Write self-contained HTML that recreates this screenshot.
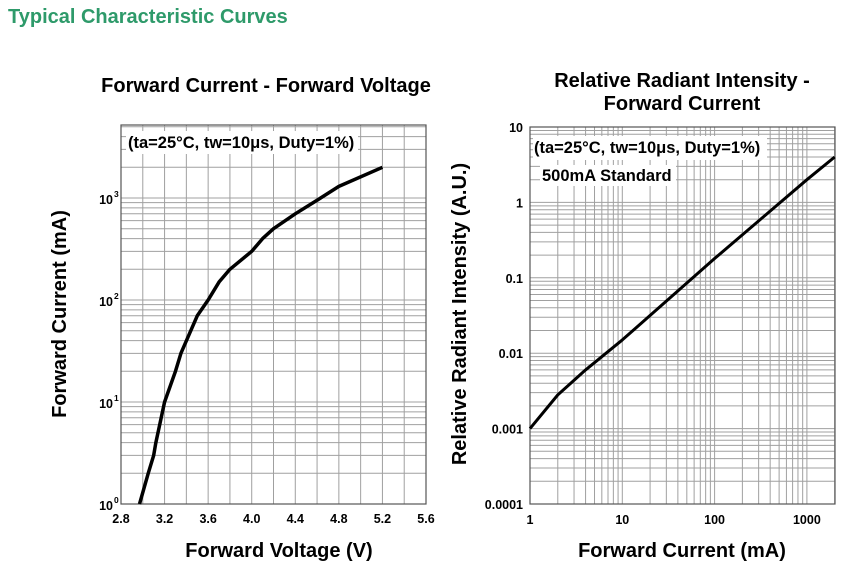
<!DOCTYPE html>
<html><head><meta charset="utf-8"><style>
body{margin:0;background:#fff;width:848px;height:575px;overflow:hidden;font-family:"Liberation Sans",Arial,sans-serif}
svg text{font-family:"Liberation Sans",Arial,sans-serif;font-weight:bold}
</style></head><body>
<svg id="s" width="848" height="575" xmlns="http://www.w3.org/2000/svg">
<text x="8" y="23" font-size="20" fill="#2e9a6a">Typical Characteristic Curves</text>
<text x="266" y="92" font-size="20" text-anchor="middle">Forward Current - Forward Voltage</text>
<text x="682" y="87" font-size="20" text-anchor="middle">Relative Radiant Intensity -</text>
<text x="682" y="110" font-size="20" text-anchor="middle">Forward Current</text>
<text x="279" y="557" font-size="20" text-anchor="middle">Forward Voltage (V)</text>
<text x="682" y="557" font-size="20" text-anchor="middle">Forward Current (mA)</text>
<text transform="translate(66,314) rotate(-90)" font-size="20" text-anchor="middle">Forward Current (mA)</text>
<text transform="translate(466,314) rotate(-90)" font-size="20" text-anchor="middle">Relative Radiant Intensity (A.U.)</text>
<g id="L"></g><g id="R"></g>
</svg>
<script>
// Left chart data
const fvVoltage=[2.97,3.05,3.1,3.12,3.2,3.3,3.35,3.5,3.6,3.7,3.8,4.0,4.1,4.2,4.4,4.6,4.8,5.2];
const fvCurrent=[1,2,3,4,10,20,30,70,100,150,200,300,400,500,700,950,1300,2000];
const leftXTicks=["2.8","3.2","3.6","4.0","4.4","4.8","5.2","5.6"];
const leftYTicks=["0","1","2","3"];
// Right chart data
const riCurrent=[1,2,4,10,100,1000,2000];
const riIntensity=[0.001,0.0028,0.006,0.015,0.18,2,4];
const rightXTicks=["1","10","100","1000"];
const rightYTicks=["0.0001","0.001","0.01","0.1","1","10"];

const NS="http://www.w3.org/2000/svg";
function mk(p,t,a){const e=document.createElementNS(NS,t);for(const k in a)e.setAttribute(k,a[k]);p.appendChild(e);return e;}
const grid="#a0a0a0";
// LEFT
const L=document.getElementById('L');
const lx0=121,lx1=426,ly0=504,ly1=125,lmin=2.8,lmax=5.6,ydec=102;
const lX=v=>lx0+(v-lmin)/(lmax-lmin)*(lx1-lx0);
const lY=v=>ly0-Math.log10(v)*ydec;
for(let v=2.8;v<=5.61;v+=0.2){const x=lX(v);const g=mk(L,'line',{x1:x,x2:x,y1:ly1,y2:ly0,stroke:grid,'stroke-width':1});}
for(let d=0;d<4;d++)for(let m=1;m<10;m++){const v=m*Math.pow(10,d);const y=lY(v);if(y<ly1)continue;const g=mk(L,'line',{x1:lx0,x2:lx1,y1:y,y2:y,stroke:grid,'stroke-width':1});}
let r=mk(L,'rect',{x:lx0,y:ly1,width:lx1-lx0,height:ly0-ly1,fill:'none',stroke:'#555','stroke-width':1.2});

leftXTicks.forEach(t=>{const e=mk(L,'text',{x:lX(+t),y:523,'font-size':12.5,'text-anchor':'middle'});e.textContent=t;});
leftYTicks.forEach(t=>{const y=lY(Math.pow(10,+t));const e=mk(L,'text',{x:113,y:y+6,'font-size':12.5,'text-anchor':'end'});e.textContent='10';const s=mk(L,'text',{x:114,y:y-1,'font-size':8.5});s.textContent=t;});
let bg=mk(L,'rect',{x:126,y:131,width:232,height:23,fill:'#fff'});
let n=mk(L,'text',{x:128,y:148,'font-size':16.5});n.textContent='(ta=25°C, tw=10μs, Duty=1%)';
let p=mk(L,'polyline',{points:fvVoltage.map((v,i)=>lX(v)+','+lY(fvCurrent[i])).join(' '),fill:'none',stroke:'#000','stroke-width':3.5,'stroke-linejoin':'round'});

// RIGHT
const R=document.getElementById('R');
const rx0=530,rx1=835,ry0=504,ry1=127,xdec=92.3,rydec=75.4;
const rX=v=>rx0+Math.log10(v)*xdec;
const rY=v=>ry0-(Math.log10(v)+4)*rydec;
for(let d=0;d<4;d++)for(let m=1;m<10;m++){const v=m*Math.pow(10,d);const x=rX(v);if(x>rx1)continue;const g=mk(R,'line',{x1:x,x2:x,y1:ry1,y2:ry0,stroke:grid,'stroke-width':1});}
for(let d=-4;d<1;d++)for(let m=1;m<10;m++){const v=m*Math.pow(10,d);const y=rY(v);const g=mk(R,'line',{x1:rx0,x2:rx1,y1:y,y2:y,stroke:grid,'stroke-width':1});}
r=mk(R,'rect',{x:rx0,y:ry1,width:rx1-rx0,height:ry0-ry1,fill:'none',stroke:'#555','stroke-width':1.2});

rightXTicks.forEach(t=>{const e=mk(R,'text',{x:rX(+t),y:524,'font-size':12.5,'text-anchor':'middle'});e.textContent=t;});
rightYTicks.forEach(t=>{const e=mk(R,'text',{x:523,y:rY(+t)+5,'font-size':12.5,'text-anchor':'end'});e.textContent=t;});
bg=mk(R,'rect',{x:533,y:136,width:234,height:24,fill:'#fff'});
n=mk(R,'text',{x:534,y:153,'font-size':16.5});n.textContent='(ta=25°C, tw=10μs, Duty=1%)';
bg=mk(R,'rect',{x:540,y:165,width:136,height:21,fill:'#fff'});
n=mk(R,'text',{x:542,y:181,'font-size':16.5});n.textContent='500mA Standard';
p=mk(R,'polyline',{points:riCurrent.map((v,i)=>rX(v)+','+rY(riIntensity[i])).join(' '),fill:'none',stroke:'#000','stroke-width':3,'stroke-linejoin':'round'});

</script>
</body></html>
